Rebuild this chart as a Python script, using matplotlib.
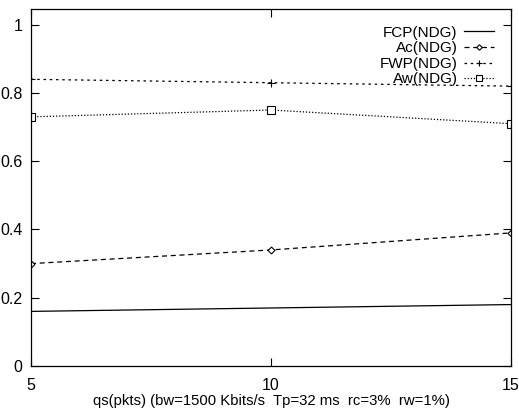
import matplotlib
matplotlib.use("Agg")
import matplotlib.pyplot as plt

plt.rcParams['font.family'] = ['Liberation Sans', 'DejaVu Sans']

# queue size (pkts)
qs = [5, 10, 15]
fcp = [0.16, 0.17, 0.18]
ac = [0.30, 0.34, 0.39]
fwp = [0.84, 0.83, 0.82]
aw = [0.73, 0.75, 0.71]

fig = plt.figure(figsize=(5.19, 4.09), dpi=100)
ax = fig.add_axes([31 / 519, 43 / 409, 480 / 519, 357 / 409])

ax.plot(qs, fcp, color="black", lw=0.9, ls="-", label="FCP(NDG)")
ax.plot(qs, ac, color="black", lw=0.9, ls=(0, (4, 3)), marker="D", ms=3.5,
        mfc="white", mec="black", mew=0.8, label="Ac(NDG)")
ax.plot(qs, fwp, color="black", lw=0.9, ls=(0, (2, 3)), marker="+", ms=6,
        mew=0.8, label="FWP(NDG)")
ax.plot(qs, aw, color="black", lw=0.9, ls=(0, (1, 1.5)), marker="s", ms=5.5,
        mfc="white", mec="black", mew=0.8, label="Aw(NDG)")

ax.set_xlim(5, 15)
ax.set_ylim(0, 1.046)
ax.set_xticks([5, 10, 15])
ax.set_yticks([0, 0.2, 0.4, 0.6, 0.8, 1])
ax.set_yticklabels(["0", "0.2", "0.4", "0.6", "0.8", "1"])
ax.tick_params(direction="in", length=6, width=0.8, top=True, right=True,
               labelsize=11.5)
ax.tick_params(axis="x", pad=9)
ax.tick_params(axis="y", pad=6)
for s in ax.spines.values():
    s.set_linewidth(0.9)

ax.set_xlabel("qs(pkts) (bw=1500 Kbits/s  Tp=32 ms  rc=3%  rw=1%)",
              fontsize=10.7, labelpad=0)

leg = ax.legend(loc="upper right", frameon=False, markerfirst=False,
                fontsize=11, handlelength=2.0, handletextpad=0.4,
                labelspacing=0.1, borderaxespad=0.7, markerscale=0.8,
                numpoints=1)
for t in leg.get_texts():
    t.set_ha("right")

fig.savefig("out.png", dpi=100)
